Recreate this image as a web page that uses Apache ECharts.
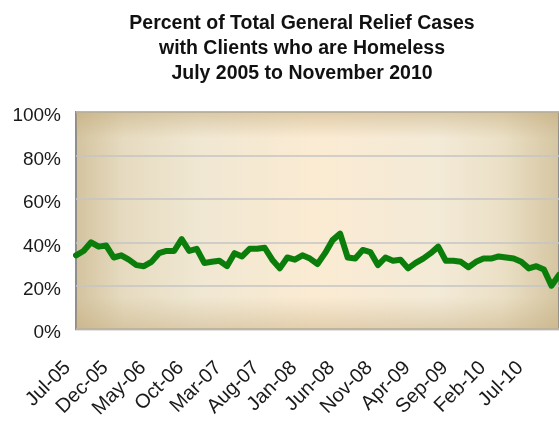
<!DOCTYPE html>
<html>
<head>
<meta charset="utf-8">
<script src="https://cdn.jsdelivr.net/npm/echarts@6/dist/echarts.min.js"></script>
<style>
html,body{margin:0;padding:0;background:#fff;}
#main{width:559px;height:421px;}
</style>
</head>
<body>
<div id="main"></div>
<script>
const titleText = "Percent of Total General Relief Cases\nwith Clients who are Homeless\nJuly 2005 to November 2010";

const months = [
  "Jul-05","Aug-05","Sep-05","Oct-05","Nov-05","Dec-05",
  "Jan-06","Feb-06","Mar-06","Apr-06","May-06","Jun-06","Jul-06","Aug-06","Sep-06","Oct-06","Nov-06","Dec-06",
  "Jan-07","Feb-07","Mar-07","Apr-07","May-07","Jun-07","Jul-07","Aug-07","Sep-07","Oct-07","Nov-07","Dec-07",
  "Jan-08","Feb-08","Mar-08","Apr-08","May-08","Jun-08","Jul-08","Aug-08","Sep-08","Oct-08","Nov-08","Dec-08",
  "Jan-09","Feb-09","Mar-09","Apr-09","May-09","Jun-09","Jul-09","Aug-09","Sep-09","Oct-09","Nov-09","Dec-09",
  "Jan-10","Feb-10","Mar-10","Apr-10","May-10","Jun-10","Jul-10","Aug-10","Sep-10","Oct-10","Nov-10"
];

const homelessPct = [
  34, 36, 40, 38, 38.5, 33,
  34, 32, 29.5, 29, 31, 35, 36, 36, 41.5, 36, 37, 30.5,
  31, 31.5, 29, 35, 33.5, 37, 37, 37.5, 32, 28, 33, 32,
  34, 32.5, 30, 35, 41, 44, 33, 32.5, 36.5, 35.5, 29.5, 33,
  31.5, 32, 28, 30.5, 32.5, 35, 38, 31.5, 31.5, 31, 28.5, 31,
  32.5, 32.5, 33.5, 33, 32.5, 31, 28, 29, 27.5, 20, 25
];

const yTicks = [0, 20, 40, 60, 80, 100];

const chart = echarts.init(document.getElementById('main'), null, {renderer: 'canvas'});

const option = {
  backgroundColor: '#ffffff',
  animation: false,
  title: {
    text: titleText,
    left: 297,
    top: 6,
    textAlign: 'center',
    textStyle: {
      fontFamily: "'Liberation Sans Narrow', 'Arial Narrow', 'Liberation Sans', Arial, sans-serif",
      fontWeight: 'bold',
      fontSize: 19.5,
      lineHeight: 25,
      color: '#111'
    }
  },
  grid: {
    left: 76, right: -1, top: 112, bottom: 88,
    show: true,
    borderColor: '#8e8e8e',
    borderWidth: 2,
    backgroundColor: {
      type: 'linear', x: 0, y: 0, x2: 1, y2: 0,
      colorStops: [
        {offset: 0, color: '#d3c39e'},
        {offset: 0.1, color: '#e6dbc0'},
        {offset: 0.25, color: '#f0e7d2'},
        {offset: 0.5, color: '#fbebd3'},
        {offset: 0.75, color: '#f3ead7'},
        {offset: 0.88, color: '#ebe0c6'},
        {offset: 1, color: '#d5c5a1'}
      ]
    }
  },
  xAxis: {
    type: 'category',
    data: months,
    boundaryGap: false,
    axisLine: {show: false},
    axisTick: {show: false},
    splitLine: {show: false},
    axisLabel: {
      interval: 4,
      rotate: 45,
      margin: 27,
      padding: [0, 12, 0, 0],
      fontSize: 20,
      fontFamily: "'Liberation Sans', Arial, sans-serif",
      color: '#1a1a1a'
    }
  },
  yAxis: {
    type: 'value',
    min: yTicks[0],
    max: yTicks[yTicks.length - 1],
    interval: 20,
    axisLine: {show: false},
    axisTick: {show: false},
    splitLine: {lineStyle: {color: '#c4c4c4', width: 1.5}},
    axisLabel: {
      formatter: '{value}%',
      margin: 15,
      verticalAlign: 'top',
      lineHeight: 8,
      fontSize: 19,
      fontFamily: "'Liberation Sans', Arial, sans-serif",
      color: '#1a1a1a'
    }
  },
  series: [
    {
      type: 'line',
      data: [],
      z: 1,
      silent: true,
      markArea: {
        silent: true,
        itemStyle: {
          color: {
            type: 'linear', x: 0, y: 0, x2: 0, y2: 1,
            colorStops: [
              {offset: 0, color: 'rgba(190,165,115,0.45)'},
              {offset: 0.12, color: 'rgba(190,165,115,0.0)'},
              {offset: 0.85, color: 'rgba(190,165,115,0.0)'},
              {offset: 1, color: 'rgba(190,165,115,0.40)'}
            ]
          }
        },
        data: [[{yAxis: yTicks[0]}, {yAxis: yTicks[yTicks.length - 1]}]]
      }
    },
    {
      type: 'line',
      data: homelessPct,
      z: 3,
      showSymbol: false,
      smooth: false,
      lineStyle: {color: '#0a7d0a', width: 6, cap: 'round', join: 'round'}
    }
  ]
};
chart.setOption(option);
</script>
</body>
</html>
